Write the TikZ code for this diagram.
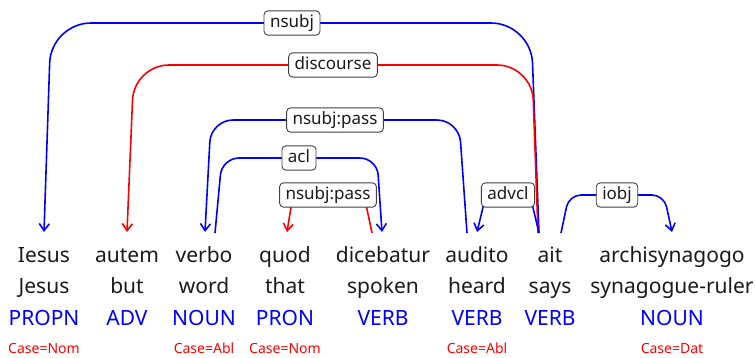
\documentclass[tikz,border=0pt]{standalone}
\usepackage{fontspec}
\setmainfont{Noto Sans}
\usetikzlibrary{arrows.meta}
\definecolor{ublue}{RGB}{0,0,255}
\definecolor{ured}{RGB}{255,0,0}
\definecolor{ink}{RGB}{26,26,26}
\begin{document}
\begin{tikzpicture}[x=1pt,y=-1pt,
  form/.style={anchor=base, inner sep=0pt, text=ink, font=\fontsize{21}{24}\selectfont},
  upos/.style={anchor=base, inner sep=0pt, text=ublue, font=\fontsize{21}{24}\selectfont},
  feat/.style={anchor=base, inner sep=0pt, text=ured, font=\fontsize{14}{16}\selectfont},
  deprel/.style={draw=black!75, line width=0.9pt, fill=white, rounded corners=4pt,
    font=\fontsize{17}{20}\selectfont, text=ink, inner xsep=6pt, inner ysep=4pt,
    text height=12.5pt, text depth=3.8pt},
  arc/.style={line width=1.6pt, -{Straight Barb[length=7pt,width=10pt]}},
]
\useasboundingbox (0,0) rectangle (755,357);

% tokens: form, gloss, UPOS, features
\node[form] (f1) at (44,262) {Iesus};
\node[form] (g1) at (44,293) {Jesus};
\node[upos] (p1) at (44,325) {PROPN};
\node[feat] (c1) at (44,353) {Case=Nom};

\node[form] (f2) at (127,262) {autem};
\node[form] (g2) at (127,293) {but};
\node[upos] (p2) at (127,325) {ADV};

\node[form] (f3) at (204,262) {verbo};
\node[form] (g3) at (204,293) {word};
\node[upos] (p3) at (204,325) {NOUN};
\node[feat] (c3) at (204,353) {Case=Abl};

\node[form] (f4) at (285,262) {quod};
\node[form] (g4) at (285,293) {that};
\node[upos] (p4) at (285,325) {PRON};
\node[feat] (c4) at (285,353) {Case=Nom};

\node[form] (f5) at (383,262) {dicebatur};
\node[form] (g5) at (383,293) {spoken};
\node[upos] (p5) at (383,325) {VERB};

\node[form] (f6) at (477,262) {audito};
\node[form] (g6) at (477,293) {heard};
\node[upos] (p6) at (477,325) {VERB};
\node[feat] (c6) at (477,353) {Case=Abl};

\node[form] (f7) at (550,262) {ait};
\node[form] (g7) at (550,293) {says};
\node[upos] (p7) at (550,325) {VERB};

\node[form] (f8) at (672,262) {archisynagogo};
\node[form] (g8) at (672,293) {synagogue-ruler};
\node[upos] (p8) at (672,325) {NOUN};
\node[feat] (c8) at (672,353) {Case=Dat};

% arc end points above the tokens
\coordinate (ait-a) at (539,233);
\coordinate (ait-b) at (538,233);
\coordinate (ait-c) at (539,233);
\coordinate (ait-d) at (561,233);
\coordinate (iesus-in) at (44,232);
\coordinate (autem-in) at (127,232);
\coordinate (verbo-in) at (205,232);
\coordinate (verbo-out) at (215,233);
\coordinate (quod-in) at (287,232);
\coordinate (dic-in) at (382,232);
\coordinate (dic-out) at (372,233);
\coordinate (aud-in) at (477,232);
\coordinate (aud-out) at (467,233);
\coordinate (arch-in) at (672,232);

% dependency arcs
\draw[arc, ublue, rounded corners=40pt] (ait-a) -- (531,23) -- (51,23) -- (iesus-in);
\draw[arc, ured, rounded corners=35pt] (ait-b) -- (532,65) -- (134,65) -- (autem-in);
\draw[arc, ublue, rounded corners=22pt] (aud-out) -- (459,120) -- (211,120) -- (verbo-in);
\draw[arc, ublue, rounded corners=17pt] (verbo-out) -- (222,158) -- (377,158) -- (dic-in);
\draw[arc, ured, rounded corners=5pt] (dic-out) -- (364,195) -- (293,195) -- (quod-in);
\draw[arc, ublue, rounded corners=5pt] (ait-c) -- (530,195) -- (486,195) -- (aud-in);
\draw[arc, ublue, rounded corners=12pt] (ait-d) -- (569,195) -- (664,195) -- (arch-in);

% relation labels
\node[deprel] (r1) at (292,23) {nsubj};
\node[deprel] (r2) at (333,65) {discourse};
\node[deprel] (r3) at (335,120) {nsubj:pass};
\node[deprel] (r4) at (299,158) {acl};
\node[deprel] (r5) at (328,195) {nsubj:pass};
\node[deprel] (r6) at (508,195) {advcl};
\node[deprel] (r7) at (617,195) {iobj};
\end{tikzpicture}
\end{document}
